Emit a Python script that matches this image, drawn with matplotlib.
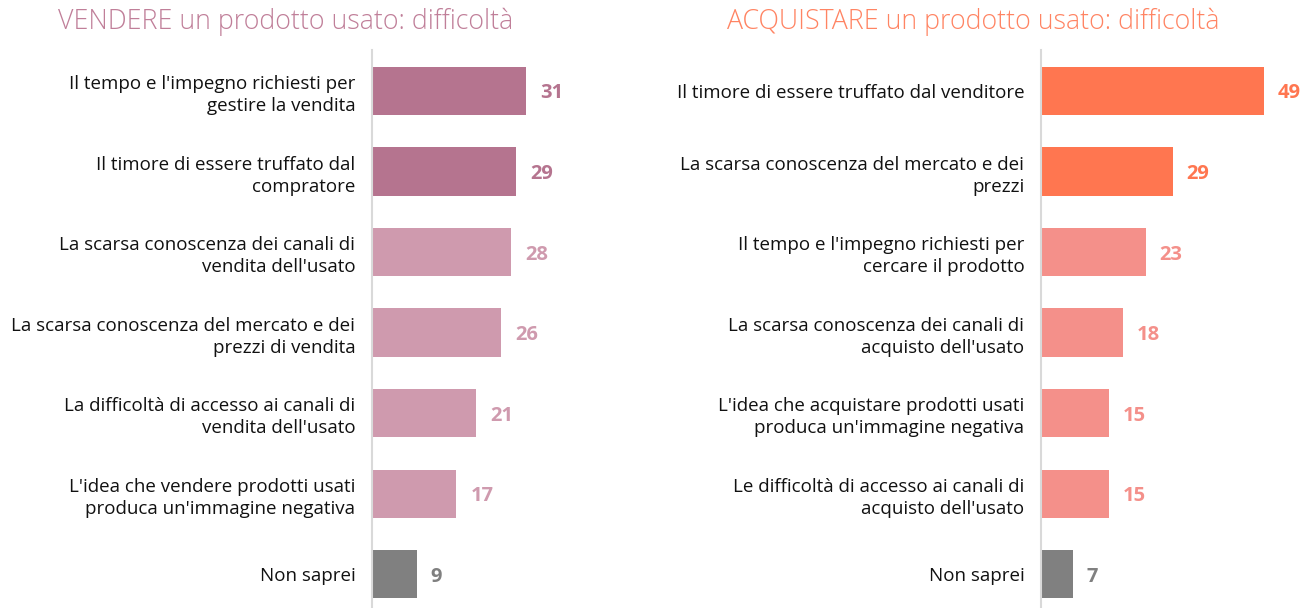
import matplotlib.pyplot as plt

# VENDERE panel
sell_labels = [
    "Il tempo e l'impegno richiesti per\ngestire la vendita",
    "Il timore di essere truffato dal\ncompratore",
    "La scarsa conoscenza dei canali di\nvendita dell'usato",
    "La scarsa conoscenza del mercato e dei\nprezzi di vendita",
    "La difficoltà di accesso ai canali di\nvendita dell'usato",
    "L'idea che vendere prodotti usati\nproduca un'immagine negativa",
    "Non saprei",
]
sell_values = [31, 29, 28, 26, 21, 17, 9]

# ACQUISTARE panel
buy_labels = [
    "Il timore di essere truffato dal venditore",
    "La scarsa conoscenza del mercato e dei\nprezzi",
    "Il tempo e l'impegno richiesti per\ncercare il prodotto",
    "La scarsa conoscenza dei canali di\nacquisto dell'usato",
    "L'idea che acquistare prodotti usati\nproduca un'immagine negativa",
    "Le difficoltà di accesso ai canali di\nacquisto dell'usato",
    "Non saprei",
]
buy_values = [49, 29, 23, 18, 15, 15, 7]

sell_colors = ['#b5748f', '#b5748f', '#cf9aae', '#cf9aae', '#cf9aae', '#cf9aae', '#808080']
buy_colors = ['#ff7650', '#ff7650', '#f4908a', '#f4908a', '#f4908a', '#f4908a', '#808080']

W, H = 1311, 608
fig = plt.figure(figsize=(W / 100, H / 100), dpi=100)


def panel(x0, x1, xmax, labels, values, colors):
    ax = fig.add_axes([x0 / W, 0, (x1 - x0) / W, (H - 50) / H])
    ys = list(range(len(values)))
    ax.barh(ys, values, height=0.6, color=colors)
    ax.set_xlim(0, xmax)
    ax.set_ylim(6.42, -0.51)
    for s in ['top', 'right', 'bottom']:
        ax.spines[s].set_visible(False)
    ax.spines['left'].set_color('#d9d9d9')
    ax.spines['left'].set_linewidth(1.5)
    ax.set_xticks([])
    ax.set_yticks(ys)
    ax.set_yticklabels(labels, fontsize=13.5, family='Open Sans', color='#111111',
                       linespacing=1.3)
    ax.tick_params(axis='y', length=0, pad=12)
    for y, v, c in zip(ys, values, colors):
        ax.annotate(str(v), (v, y + 0.03), xytext=(10, 0), textcoords='offset points',
                    va='center', ha='left', fontsize=14.5, fontweight='bold',
                    family='Open Sans', color=c)
    return ax


panel(372, 650, 56.0, sell_labels, sell_values, sell_colors)
panel(1041, 1306, 58.3, buy_labels, buy_values, buy_colors)

fig.text(58 / W, 1 - 22 / H, "VENDERE un prodotto usato: difficoltà", fontsize=19.3,
         family='Open Sans', fontweight='light', color='#c07f99', va='center', ha='left')
fig.text(727 / W, 1 - 22 / H, "ACQUISTARE un prodotto usato: difficoltà", fontsize=19.3,
         family='Open Sans', fontweight='light', color='#ff8463', va='center', ha='left')

fig.savefig('out.png', dpi=100)
